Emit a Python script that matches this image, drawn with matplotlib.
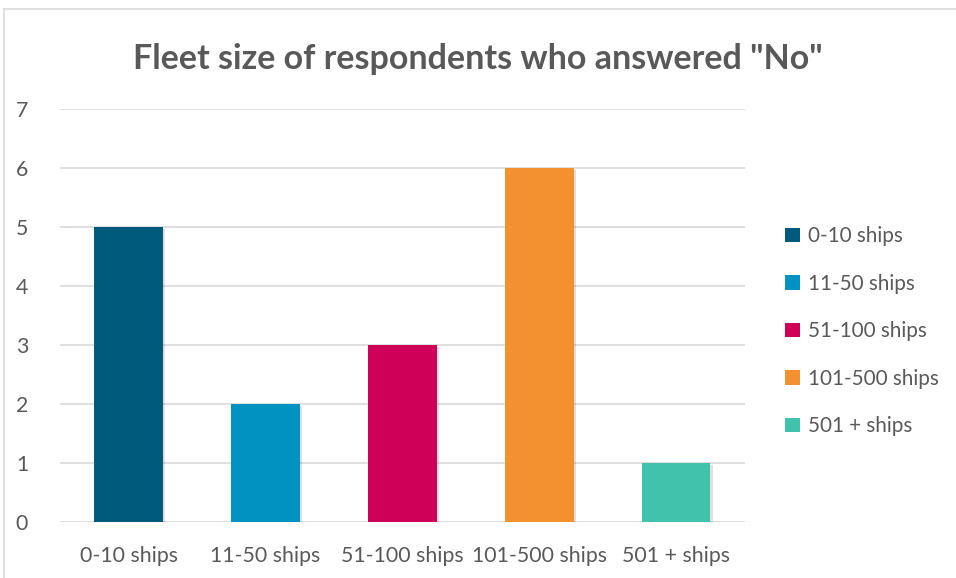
import matplotlib.pyplot as plt
from matplotlib.patches import Rectangle, Patch
import matplotlib.patheffects as pe

categories = ["0-10 ships", "11-50 ships", "51-100 ships", "101-500 ships", "501 + ships"]
counts = [5, 2, 3, 6, 1]
colors = ["#005A7C", "#0093C1", "#CF0057", "#F39030", "#40C2AD"]

text_color = "#595959"
plt.rcParams["font.family"] = ["Lato", "DejaVu Sans"]

fig = plt.figure(figsize=(9.56, 5.78), dpi=100)
ax = fig.add_axes([0.0628, 0.0969, 0.7162, 0.7145])

# light frame around the chart area
fig.patches.append(Rectangle((4 / 956, -0.1), 1.2, 1 - 9 / 578 + 0.1,
                             transform=fig.transFigure, fill=False,
                             edgecolor="#D9D9D9", linewidth=1.2))

x = range(len(categories))
bars = ax.bar(x, counts, width=0.5, color=colors, zorder=3)
for b in bars:
    b.set_path_effects([pe.SimplePatchShadow(offset=(1.5, -1.5), shadow_rgbFace="#000000", alpha=0.12),
                        pe.Normal()])

ax.set_xlim(-0.5, 4.5)
ax.set_ylim(0, 7)
ax.set_yticks(range(8))
ax.grid(axis="y", color="#D9D9D9", linewidth=1.2, zorder=0)
for s in ax.spines.values():
    s.set_visible(False)
ax.tick_params(length=0, labelsize=15.3, labelcolor=text_color)
ax.tick_params(axis="y", pad=23)
ax.tick_params(axis="x", pad=17)
ax.set_xticks(list(x))
ax.set_xticklabels(categories)

fig.text(0.4994, 0.898, 'Fleet size of respondents who answered "No"', ha="center", va="center",
         fontsize=24.5, fontweight="bold", color=text_color)

handles = [Patch(facecolor=c, label=l) for c, l in zip(colors, categories)]
fig.legend(handles=handles, loc="center left", bbox_to_anchor=(0.802, 0.427), frameon=False,
           fontsize=14.9, labelcolor=text_color, handlelength=0.7, handleheight=0.7,
           handletextpad=0.4, labelspacing=1.33)

fig.savefig("out.png", dpi=100, facecolor="white")
